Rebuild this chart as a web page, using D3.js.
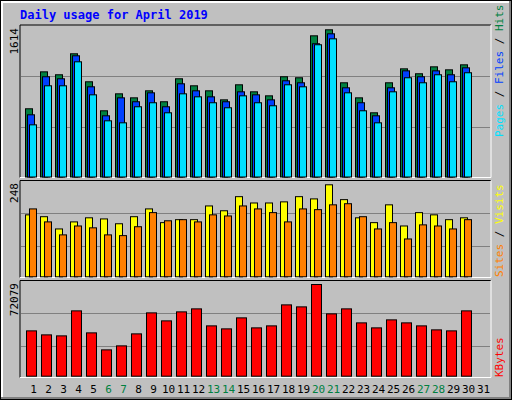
<!DOCTYPE html>
<html><head><meta charset="utf-8">
<script src="https://cdn.jsdelivr.net/npm/d3@7/dist/d3.min.js"></script>
<style>body{margin:0;background:#fff}</style></head>
<body><svg id="c" width="512" height="400"></svg>
<script>
const days=d3.range(1,32);
const weekends=[6,7,13,14,20,21,27,28];
const hits=[748,1153,1121,1351,1044,726,912,868,945,825,1077,1000,945,846,1011,934,890,1099,1088,1548,1614,1033,868,704,1033,1186,1132,1208,1175,1230];
const files=[682,1099,1077,1329,989,671,868,825,923,770,1022,945,879,825,934,901,846,1055,1033,1461,1570,978,814,671,978,1164,1099,1164,1121,1197];
const pages=[572,1000,1000,1263,901,616,594,770,814,704,912,879,814,759,890,814,781,1011,989,1450,1515,923,726,594,934,1088,1033,1121,1044,1143];
const sites=[167,162,129,148,159,156,143,162,183,146,154,154,191,178,216,199,199,202,216,210,248,208,159,146,194,137,173,167,154,159];
const visits=[183,148,113,137,132,113,111,135,173,151,154,148,167,164,191,183,173,148,183,181,194,197,162,129,146,102,140,137,129,154];
const kbytes=[35632,32488,31702,51352,34060,20698,23842,33274,49780,43492,50566,52924,39562,37204,45850,37990,39562,56068,54496,72079,48994,52924,41920,37990,44278,41920,39562,36418,35632,51352];
const maxLabels=["1614","248","72079"];

const svg=d3.select("#c");
const mono="'DejaVu Sans Mono',monospace";
// background & bevel
svg.append("rect").attr("x",0).attr("y",0).attr("width",512).attr("height",400).attr("fill","#000");
svg.append("rect").attr("x",1).attr("y",1).attr("width",510).attr("height",398).attr("fill","#808080");
svg.append("rect").attr("x",1).attr("y",1).attr("width",508).attr("height",396).attr("fill","#fff");
svg.append("rect").attr("x",3).attr("y",3).attr("width",506).attr("height",394).attr("fill","#c0c0c0");
svg.append("text").attr("x",20).attr("y",19).attr("font-family",mono).attr("font-weight","bold").attr("font-size",12).attr("fill","#0000ff").text("Daily usage for April 2019");

const x=d3.scaleLinear().domain([1,31]).range([25,475]);
function panel(y0,y1,grids){
  svg.append("rect").attr("x",20).attr("y",y0).attr("width",471).attr("height",y1-y0).attr("fill","#c0c0c0").attr("stroke","none");
  svg.append("path").attr("d",`M20,${y1}V${y0}H491`).attr("stroke","#000").attr("fill","none");
  svg.append("path").attr("d",`M491,${y0}V${y1}H20`).attr("stroke","#fff").attr("fill","none");
  grids.forEach(g=>svg.append("line").attr("x1",21).attr("x2",490).attr("y1",g).attr("y2",g).attr("stroke","#808080"));
}
panel(25,177.5,[76.5,127.5]);
panel(180.5,277.5,[213.5,246.5]);
panel(280.5,377.5,[313.5,346.5]);

function bars(data,scale,off,w,col){
  svg.append("g").selectAll("rect").data(data).join("rect")
    .attr("x",(d,i)=>x(i+1)+off+0.5).attr("y",d=>scale(d)+0.5)
    .attr("width",w).attr("height",d=>scale(0)-scale(d))
    .attr("fill",col).attr("stroke","#000");
}
const yTop=d3.scaleLinear().domain([0,1614]).range([176.5,29.3]);
const yMid=d3.scaleLinear().domain([0,248]).range([276.3,184.3]);
const yBot=d3.scaleLinear().domain([0,72079]).range([375.7,284]);
bars(hits,yTop,0,7,"#008040");
bars(files,yTop,2,7,"#0040ff");
bars(pages,yTop,4,7,"#00e0ff");
bars(sites,yMid,0,7,"#ffff00");
bars(visits,yMid,4,7,"#ff8000");
bars(kbytes,yBot,1,10,"#ff0000");

// day labels
svg.append("g").selectAll("text").data(days).join("text")
  .attr("x",d=>x(d)+8.5).attr("y",393).attr("text-anchor","middle")
  .attr("font-family",mono).attr("font-size",11)
  .attr("fill",d=>weekends.includes(d)?"#008040":"#000").text(d=>d);

// max labels
[[28,maxLabels[0]],[183,maxLabels[1]],[283,maxLabels[2]]].forEach(([yy,t])=>{
  svg.append("text").attr("transform",`translate(18,${yy}) rotate(-90)`).attr("text-anchor","end")
    .attr("font-family",mono).attr("font-size",11).attr("fill","#000").text(t);
});
// right legends
function legend(yb,parts){
  const t=svg.append("text").attr("transform",`translate(503,${yb}) rotate(-90)`)
    .attr("font-family",mono).attr("font-size",11);
  parts.forEach(([s,c])=>t.append("tspan").attr("fill",c).text(s));
}
legend(137,[["Pages","#00e0ff"],[" / ","#000"],["Files","#0040ff"],[" / ","#000"],["Hits","#008040"]]);
legend(277,[["Sites","#ff8000"],[" / ","#000"],["Visits","#ffff00"]]);
legend(377,[["KBytes","#ff0000"]]);
</script></body></html>
